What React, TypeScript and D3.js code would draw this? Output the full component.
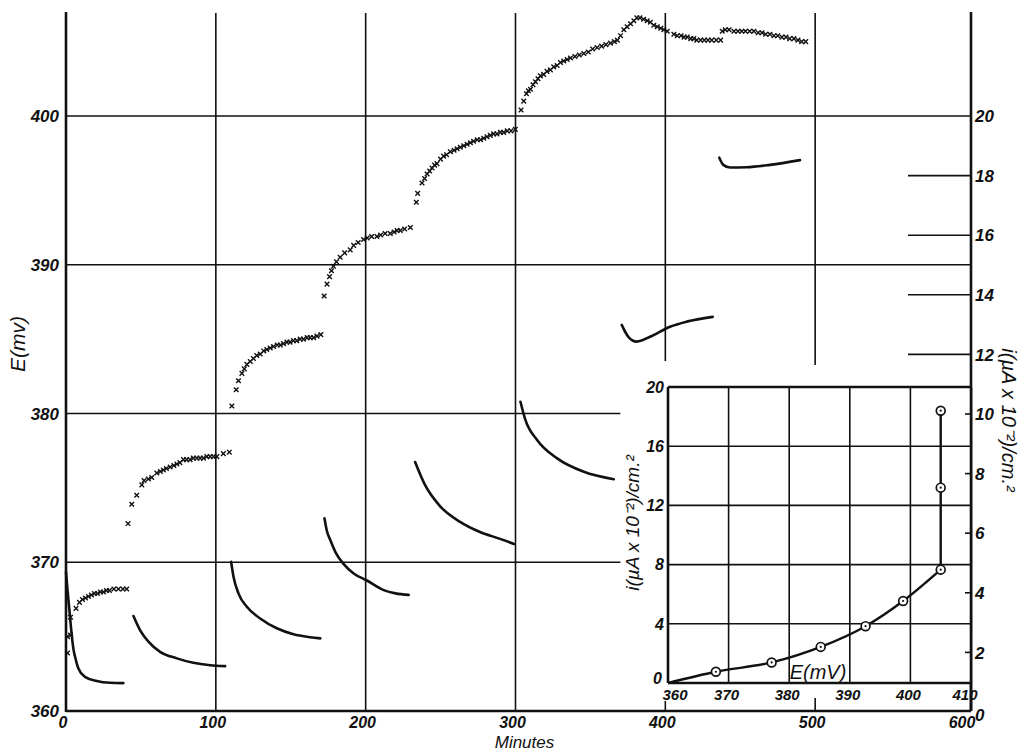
import React from 'react';
import * as d3 from 'd3';

// potential (mV) readings, crosses, one run per step
const potentialStep1 = [[1,363.9],[1,365.0],[3,365.1],[3,366.3],[6.7,366.9],[9,367.3],[11,367.5],[13,367.6],[15,367.7],[17,367.8],[19,367.9],[21,367.9],[23,368.0],[25,368.0],[27,368.1],[29,368.1],[32,368.2],[35,368.2],[38,368.2],[40.5,368.2]];
const potentialStep2 = [[41.4,372.6],[43.9,373.9],[47.2,374.5],[50.6,375.2],[52.1,375.5],[55,375.6],[57.2,375.7],[60.6,376.0],[63,376.1],[65,376.2],[67,376.3],[69.5,376.4],[72,376.5],[74,376.6],[76,376.7],[78.4,376.9],[80.5,376.9],[82.8,376.9],[85,377.0],[87.3,377.0],[89.5,377.0],[91.7,377.0],[94,377.1],[96.2,377.1],[98.5,377.1],[100.7,377.1],[105,377.3],[109,377.4]];
const potentialStep3 = [[110.7,380.5],[113.6,381.6],[115.1,382.2],[117.4,382.7],[119,383.0],[120.7,383.3],[123,383.5],[125.1,383.7],[127.3,383.9],[129.6,384.0],[132,384.2],[134,384.3],[136.3,384.4],[138.5,384.5],[141,384.6],[143,384.6],[145.2,384.7],[147.5,384.8],[149.5,384.8],[151.8,384.9],[154,384.9],[156.3,385.0],[158.5,385.0],[161,385.1],[163,385.1],[165.2,385.1],[167.5,385.2],[170.1,385.3]];
const potentialStep4 = [[172.3,387.9],[174.2,388.7],[175.9,389.2],[177.2,389.6],[178.5,389.9],[180.5,390.2],[183,390.5],[186,390.8],[189.7,391.0],[192,391.3],[195,391.5],[198.6,391.7],[201,391.8],[204,391.9],[207.5,391.9],[210,392.0],[213,392.1],[216.4,392.1],[219,392.2],[221,392.3],[223.1,392.3],[226,392.4],[229.8,392.5]];
const potentialStep5 = [[233.8,394.2],[234.7,394.8],[237.6,395.5],[239.3,395.8],[241,396.1],[242.7,396.3],[244.3,396.5],[246,396.7],[247.6,396.8],[250,397.1],[252,397.3],[254,397.4],[256.5,397.6],[259,397.7],[261,397.8],[263.2,397.9],[265.5,398.0],[267.7,398.1],[269.9,398.2],[272,398.3],[274.5,398.4],[276.7,398.4],[278.8,398.5],[281,398.6],[283.2,398.7],[285.4,398.8],[287.6,398.8],[290,398.9],[292.1,398.9],[294.5,399.0],[297,399.0],[299.9,399.1]];
const potentialStep6 = [[303.7,400.4],[305.5,401.0],[307.3,401.5],[308.6,401.7],[310,401.8],[311.7,402.1],[313.3,402.3],[315,402.5],[316.6,402.7],[318.8,402.8],[321,403.0],[323.3,403.1],[325.5,403.3],[327.8,403.4],[330,403.6],[332.2,403.7],[334.5,403.8],[336.7,403.9],[339.7,404.0],[342.6,404.1],[345.6,404.2],[348.6,404.3],[351.5,404.5],[354.5,404.6],[357.5,404.7],[360.4,404.8],[363.4,404.9],[366,405.0],[368,405.1],[370.1,405.4],[372.3,405.8],[374.5,406.0],[376.8,406.2],[379,406.4],[381,406.6],[383,406.6],[385.5,406.5],[387.9,406.4],[390,406.3],[392.3,406.1],[394.6,406.0],[397,405.9],[399,405.8],[401.3,405.7],[405.7,405.5],[408,405.4],[410.5,405.4],[412.5,405.3],[414.6,405.3],[417,405.2],[419,405.2],[421,405.1],[423.5,405.1],[426,405.1],[428.5,405.1],[431,405.1],[434,405.1],[436.9,405.1]];
const potentialStep7 = [[438,405.7],[440,405.8],[442.5,405.8],[445.8,405.7],[448.5,405.7],[451,405.7],[453.5,405.7],[456.3,405.7],[459.1,405.7],[462,405.6],[464.5,405.6],[467,405.5],[469.8,405.5],[472.5,405.4],[475,405.4],[477.8,405.3],[480.5,405.3],[483,405.2],[485.8,405.2],[488.5,405.1],[491,405.0],[493.7,405.0]];

// current density readings (right axis), solid curves
const currentStep1 = [[0,4.7],[1,4.1],[2.5,3.3],[3.8,2.6],[5,2.1],[6,1.86],[8.2,1.47],[12.7,1.18],[20.5,1.04],[29.4,0.98],[38.3,0.97]];
const currentStep2 = [[45,3.22],[49.4,2.75],[55,2.36],[62.8,2.02],[74,1.8],[85,1.65],[96.2,1.57],[106.2,1.54]];
const currentStep3 = [[110.2,5.04],[111.8,4.54],[115.1,3.98],[120.7,3.53],[129.6,3.14],[140.7,2.81],[151.8,2.61],[163,2.51],[169.7,2.47]];
const currentStep4 = [[172.5,6.5],[174,6.1],[176.4,5.77],[180,5.35],[185.2,4.97],[192,4.65],[200.2,4.43],[212,4.09],[220,3.98],[228.7,3.93]];
const currentStep5 = [[233,8.39],[239.6,7.62],[249.6,6.91],[263,6.38],[276.3,6.04],[289.7,5.81],[299,5.64]];
const currentStep6 = [[303.3,10.41],[306.6,9.8],[314.4,9.13],[327.8,8.51],[345.6,8.06],[365.6,7.81]];
const currentStep7 = [[370.9,12.99],[375.3,12.59],[380.9,12.43],[389.8,12.59],[403.1,12.93],[414.3,13.1],[431.6,13.26]];
const currentStep8 = [[436,18.6],[438.7,18.36],[443.2,18.27],[454.3,18.28],[469.9,18.36],[489.9,18.52]];

// inset: steady current vs potential
const insetPotential = [360, 367.9, 377.1, 385.2, 392.6, 398.8, 405, 405, 405];
const insetCurrent = [0, 0.76, 1.39, 2.44, 3.84, 5.54, 7.66, 13.2, 18.4];

const minuteTicks = [0, 100, 200, 300, 400, 500, 600];
const potentialTicks = [360, 370, 380, 390, 400];
const currentTicks = [0, 2, 4, 6, 8, 10, 12, 14, 16, 18, 20];
const insetPotentialTicks = [360, 370, 380, 390, 400, 410];
const insetCurrentTicks = [0, 4, 8, 12, 16, 20];

const W = 1019;
const H = 752;
const FONT = "'Liberation Sans', Arial, sans-serif";

const x = d3.scaleLinear().domain([0, 600]).range([66, 965]);
const yE = d3.scaleLinear().domain([360, 400]).range([711, 116]);
const yI = d3.scaleLinear().domain([0, 20]).range([712, 116]);
const ix = d3.scaleLinear().domain([360, 410]).range([668, 971]);
const iy = d3.scaleLinear().domain([0, 20]).range([683, 387]);

const rightX = 971;
const topY = 12;
const bottomY = yE(360);

const Cross = ({ cx, cy }) => (
  <path d={`M${cx - 2.3},${cy - 2.3}L${cx + 2.3},${cy + 2.3}M${cx - 2.3},${cy + 2.3}L${cx + 2.3},${cy - 2.3}`} stroke="#111" strokeWidth={1.4} />
);

const App = () => {
  const potentialRuns = [potentialStep1, potentialStep2, potentialStep3, potentialStep4, potentialStep5, potentialStep6, potentialStep7];
  const currentRuns = [currentStep1, currentStep2, currentStep3, currentStep4, currentStep5, currentStep6, currentStep7, currentStep8];

  const currentLine = d3.line<number[]>()
    .x(d => x(d[0]))
    .y(d => yI(d[1]))
    .curve(d3.curveMonotoneX);

  const insetPts = insetPotential.map((e, k) => [e, insetCurrent[k]]);
  const insetCurve = d3.line<number[]>()
    .x(d => ix(d[0]))
    .y(d => iy(d[1]))
    .curve(d3.curveMonotoneX)(insetPts.slice(0, 7));
  const insetRise = d3.line<number[]>()
    .x(d => ix(d[0]))
    .y(d => iy(d[1]))(insetPts.slice(6));

  return (
    <svg width={W} height={H} style={{ position: 'absolute', left: 0, top: 0, background: '#fff' }}
      fontFamily={FONT} fontStyle="italic">
      <rect width={W} height={H} fill="#fff" />

      {/* grid */}
      <g stroke="#111" strokeWidth={1.6}>
        {[100, 200, 300].map(t =>
          <line key={`v-${t}`} x1={x(t)} x2={x(t)} y1={topY + 1} y2={bottomY} />
        )}
        <line x1={x(400)} x2={x(400)} y1={topY + 1} y2={361} />
        <line x1={x(500)} x2={x(500)} y1={topY + 1} y2={365} />
        {[390, 400].map(v =>
          <line key={`h-${v}`} x1={x(0)} x2={rightX} y1={yE(v)} y2={yE(v)} />
        )}
        {[370, 380].map(v =>
          <line key={`h-${v}`} x1={x(0)} x2={x(370)} y1={yE(v)} y2={yE(v)} />
        )}
        {[12, 14, 16, 18].map(v =>
          <line key={`rt-${v}`} x1={rightX - 63} x2={rightX} y1={yI(v)} y2={yI(v)} />
        )}
        <line x1={x(400)} x2={x(400)} y1={bottomY - 10} y2={bottomY} />
        <line x1={x(500)} x2={x(500)} y1={bottomY - 13} y2={bottomY} />
      </g>

      {/* axes frame */}
      <g stroke="#111" strokeWidth={2.6} fill="none">
        <line x1={x(0)} x2={x(0)} y1={topY} y2={bottomY + 1} />
        <line x1={x(0)} x2={rightX} y1={bottomY} y2={bottomY} />
        <line x1={rightX} x2={rightX} y1={topY} y2={bottomY} />
      </g>

      {/* current curves */}
      <g fill="none" stroke="#111" strokeWidth={2.6} strokeLinecap="round">
        {currentRuns.map((run, k) => <path key={`c-${k}`} d={currentLine(run)} />)}
      </g>

      {/* potential crosses */}
      <g>
        {potentialRuns.map((run, k) => run.map((d, j) =>
          <Cross key={`p-${k}-${j}`} cx={x(d[0])} cy={yE(d[1])} />
        ))}
      </g>

      {/* left axis labels */}
      <g fontSize={17} fontWeight="bold" textAnchor="end" fill="#111">
        {potentialTicks.map(v =>
          <text key={`yl-${v}`} x={x(0) - 7} y={yE(v)} dy="0.36em">{v}</text>
        )}
      </g>
      <text transform={`translate(25,344) rotate(-90)`} textAnchor="middle" fontSize={21} fill="#111">E(mv)</text>

      {/* bottom axis labels */}
      <g fontSize={16} fontWeight="bold" textAnchor="middle" fill="#111">
        {minuteTicks.map(t =>
          <text key={`xl-${t}`} x={x(t) - 3} y={727.5}>{t}</text>
        )}
      </g>
      <text x={x(306)} y={748} textAnchor="middle" fontSize={17} fill="#111">Minutes</text>

      {/* inset */}
      <g>
        <rect x={ix(360)} y={iy(20)} width={rightX - ix(360)} height={iy(0) - iy(20)} fill="#fff" />
        <g stroke="#111" strokeWidth={1.6}>
          {[370, 380, 390, 400].map(v =>
            <line key={`iv-${v}`} x1={ix(v)} x2={ix(v)} y1={iy(20)} y2={iy(0)} />
          )}
          {[4, 8, 12, 16].map(v =>
            <line key={`ih-${v}`} x1={ix(360)} x2={rightX} y1={iy(v)} y2={iy(v)} />
          )}
          {[2, 4, 6, 8, 10].map(v =>
            <line key={`rts-${v}`} x1={rightX - 6} x2={rightX} y1={yI(v)} y2={yI(v)} />
          )}
        </g>
        <g stroke="#111" strokeWidth={2.6}>
          <line x1={ix(360)} x2={rightX} y1={iy(20)} y2={iy(20)} />
          <line x1={ix(360)} x2={ix(360)} y1={iy(20)} y2={iy(0)} />
          <line x1={ix(360)} x2={rightX} y1={iy(0)} y2={iy(0)} />
          <line x1={rightX} x2={rightX} y1={iy(20)} y2={bottomY} />
        </g>
        <path d={insetCurve} fill="none" stroke="#111" strokeWidth={2.4} />
        <path d={insetRise} fill="none" stroke="#111" strokeWidth={2.4} />
        {insetPts.slice(1).map((d, k) =>
          <g key={`im-${k}`}>
            <circle cx={ix(d[0])} cy={iy(d[1])} r={4.4} fill="#fff" stroke="#111" strokeWidth={1.7} />
            <circle cx={ix(d[0])} cy={iy(d[1])} r={1.1} fill="#111" />
          </g>
        )}
        <g fontSize={16} fontWeight="bold" textAnchor="end" fill="#111">
          {insetCurrentTicks.map(v =>
            <text key={`il-${v}`} x={ix(360) - (v === 0 ? 6 : 4)} y={iy(v) - (v === 0 ? 5 : 0)} dy="0.36em">{v}</text>
          )}
        </g>
        <g fontSize={15} fontWeight="bold" textAnchor="middle" fill="#111">
          {insetPotentialTicks.map(v =>
            <text key={`ib-${v}`} x={ix(v) + (v === 360 ? 7 : v === 410 ? -6 : -2)} y={700}>{v}</text>
          )}
        </g>
        <text x={818} y={679} textAnchor="middle" fontSize={20} fill="#111">E(mV)</text>
        <text transform={`translate(639,523) rotate(-90)`} textAnchor="middle" fontSize={19} fill="#111">i(µA x 10⁻²)/cm.²</text>
      </g>

      {/* right axis labels */}
      <g fontSize={17} fontWeight="bold" textAnchor="start" fill="#111">
        {currentTicks.map(v =>
          <text key={`rl-${v}`} x={rightX + 4} y={yI(v) + (v === 0 ? 3 : 0)} dy="0.36em">{v}</text>
        )}
      </g>
      <text transform={`translate(1002,420) rotate(90)`} textAnchor="middle" fontSize={20} fill="#111">i(µA x 10⁻²)/cm.²</text>
    </svg>
  );
};

export default App;
